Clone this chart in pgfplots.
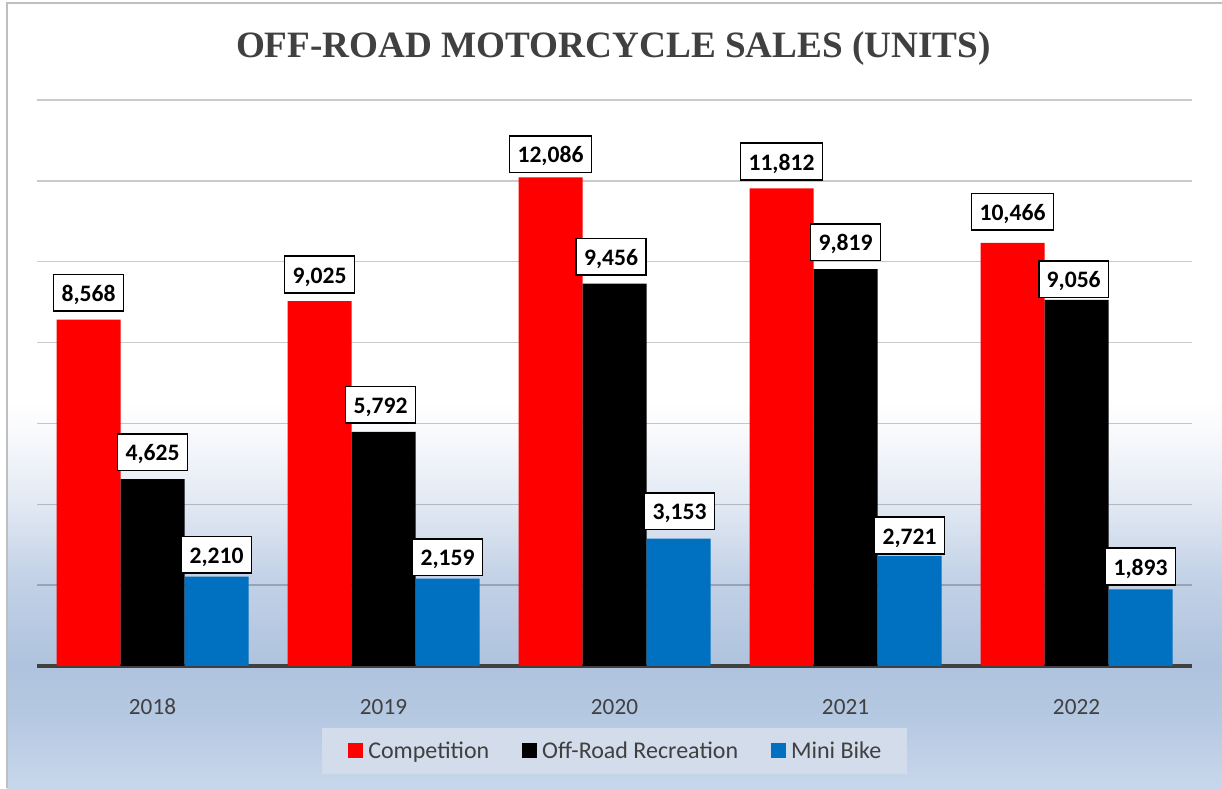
\documentclass[border=0pt]{standalone}
\usepackage{pgfplots}
\usepackage{pgfplotstable}
\pgfplotsset{compat=1.18}
\usepackage{fontspec}
\setmainfont{Carlito}
\newfontfamily\titlefont{Liberation Serif}

\definecolor{cRed}{HTML}{FF0000}
\definecolor{cBlack}{HTML}{000000}
\definecolor{cBlue}{HTML}{0070C0}
\definecolor{txtgray}{HTML}{404040}
\definecolor{gridgray}{HTML}{CACACA}
\definecolor{axgray}{HTML}{404040}
\definecolor{legfill}{HTML}{D2DCEA}
\definecolor{frame}{HTML}{BFBFBF}
\definecolor{bgA}{HTML}{C8D7EB}
\definecolor{bgB}{HTML}{B6C9E2}
\definecolor{bgC}{HTML}{AFC3DE}
\definecolor{bgD}{HTML}{C2D1E6}
\definecolor{bgE}{HTML}{E3EAF4}
\definecolor{bgF}{HTML}{F9FAFC}

\pgfdeclareverticalshading{chartbg}{100bp}{color(0bp)=(bgA); color(25bp)=(bgA); color(29.33bp)=(bgB); color(32.77bp)=(bgC); color(38.25bp)=(bgD); color(43.34bp)=(bgE); color(47.8bp)=(bgF); color(49.7bp)=(white); color(100bp)=(white)}

\pgfplotstableread{
x y dx dy
0 8568 0 3.9
1 9025 0 3.75
2 12086 0 2.05
3 11812 0 3.9
4 10466 0 5.9
}\tcomp
\pgfplotstableread{
x y dx dy
0 4625 0 3.9
1 5792 -1.5 4.05
2 9456 -1.75 3.9
3 9819 0 3.9
4 9056 -1.4 0.85
}\trec
\pgfplotstableread{
x y dx dy
0 2210 0 1.4
1 2159 0 1.25
2 3153 0.5 4.05
3 2721 0 0.7
4 1893 0 1.9
}\tmini

\begin{document}
\begin{tikzpicture}
\path[use as bounding box] (0,0) rectangle (611pt,394pt);
\fill[white] (0,0) rectangle (611pt,394pt);
\path[shading=chartbg] (3.5pt,0pt) rectangle (611pt,392.5pt);
\draw[frame, line width=0.6pt] (3.5pt,0pt) -- (3.5pt,392.5pt) -- (611pt,392.5pt);
\node[anchor=base, font=\titlefont\bfseries\fontsize{18.6}{22}\selectfont, text=txtgray] at (306.7pt,365.1pt) {OFF-ROAD MOTORCYCLE SALES (UNITS)};
\begin{axis}[
  at={(18.5pt,61pt)}, anchor=south west, scale only axis,
  width=577.5pt, height=283pt,
  ybar=0pt, bar width=32pt,
  xmin=-0.5, xmax=4.5, ymin=0, ymax=14000,
  xtick={0,1,2,3,4}, xticklabels={2018,2019,2020,2021,2022},
  ytick={0,2000,4000,6000,8000,10000,12000,14000}, yticklabels={},
  scaled y ticks=false,
  ymajorgrids,
  major grid style={draw=gridgray, line width=0.7pt, blend mode=multiply},
  axis lines*=left,
  y axis line style={draw=none},
  x axis line style={draw=axgray, line width=1.7pt},
  xtick style={draw=none}, ytick style={draw=none},
  xticklabel style={font=\fontsize{11.6}{13}\selectfont, text=txtgray, anchor=base, yshift=-19.85pt},
  clip=false,
  point meta=y,
  nodes near coords={\pgfmathprintnumber[fixed,precision=0,1000 sep={,},assume math mode=true]{\pgfplotspointmeta}},
  visualization depends on={\thisrow{dx} \as \dx},
  visualization depends on={\thisrow{dy} \as \dy},
  every node near coord/.append style={anchor=south, xshift=\dx pt, yshift=\dy pt,
     draw=black, line width=0.8pt, fill=white, text=black,
     font=\bfseries\fontsize{11.8}{13}\selectfont,
     inner xsep=4pt, inner ysep=0pt, minimum height=18.3pt, text height=10pt, text depth=1.4pt},
  legend image code/.code={\fill[#1] (0pt,-3.75pt) rectangle (7.5pt,3.75pt);},
  legend style={at={(axis description cs:0.5,-0.150)}, anchor=center,
     legend columns=3, fill=legfill, draw=none,
     inner xsep=13pt, inner ysep=6.8pt,
     font=\fontsize{12}{14}\selectfont, text=txtgray,
     nodes={inner xsep=0pt, inner ysep=0pt, text height=8.6pt, text depth=0.8pt},
     /tikz/every odd column/.append style={column sep=2.75pt},
     /tikz/every even column/.append style={column sep=16.2pt}},
]
\addplot[fill=cRed, draw=none] table[x=x,y=y] {\tcomp};
\addplot[fill=cBlack, draw=none] table[x=x,y=y] {\trec};
\addplot[fill=cBlue, draw=none] table[x=x,y=y] {\tmini};
\legend{Competition, Off-Road Recreation, Mini Bike}
\end{axis}
\end{tikzpicture}
\end{document}
